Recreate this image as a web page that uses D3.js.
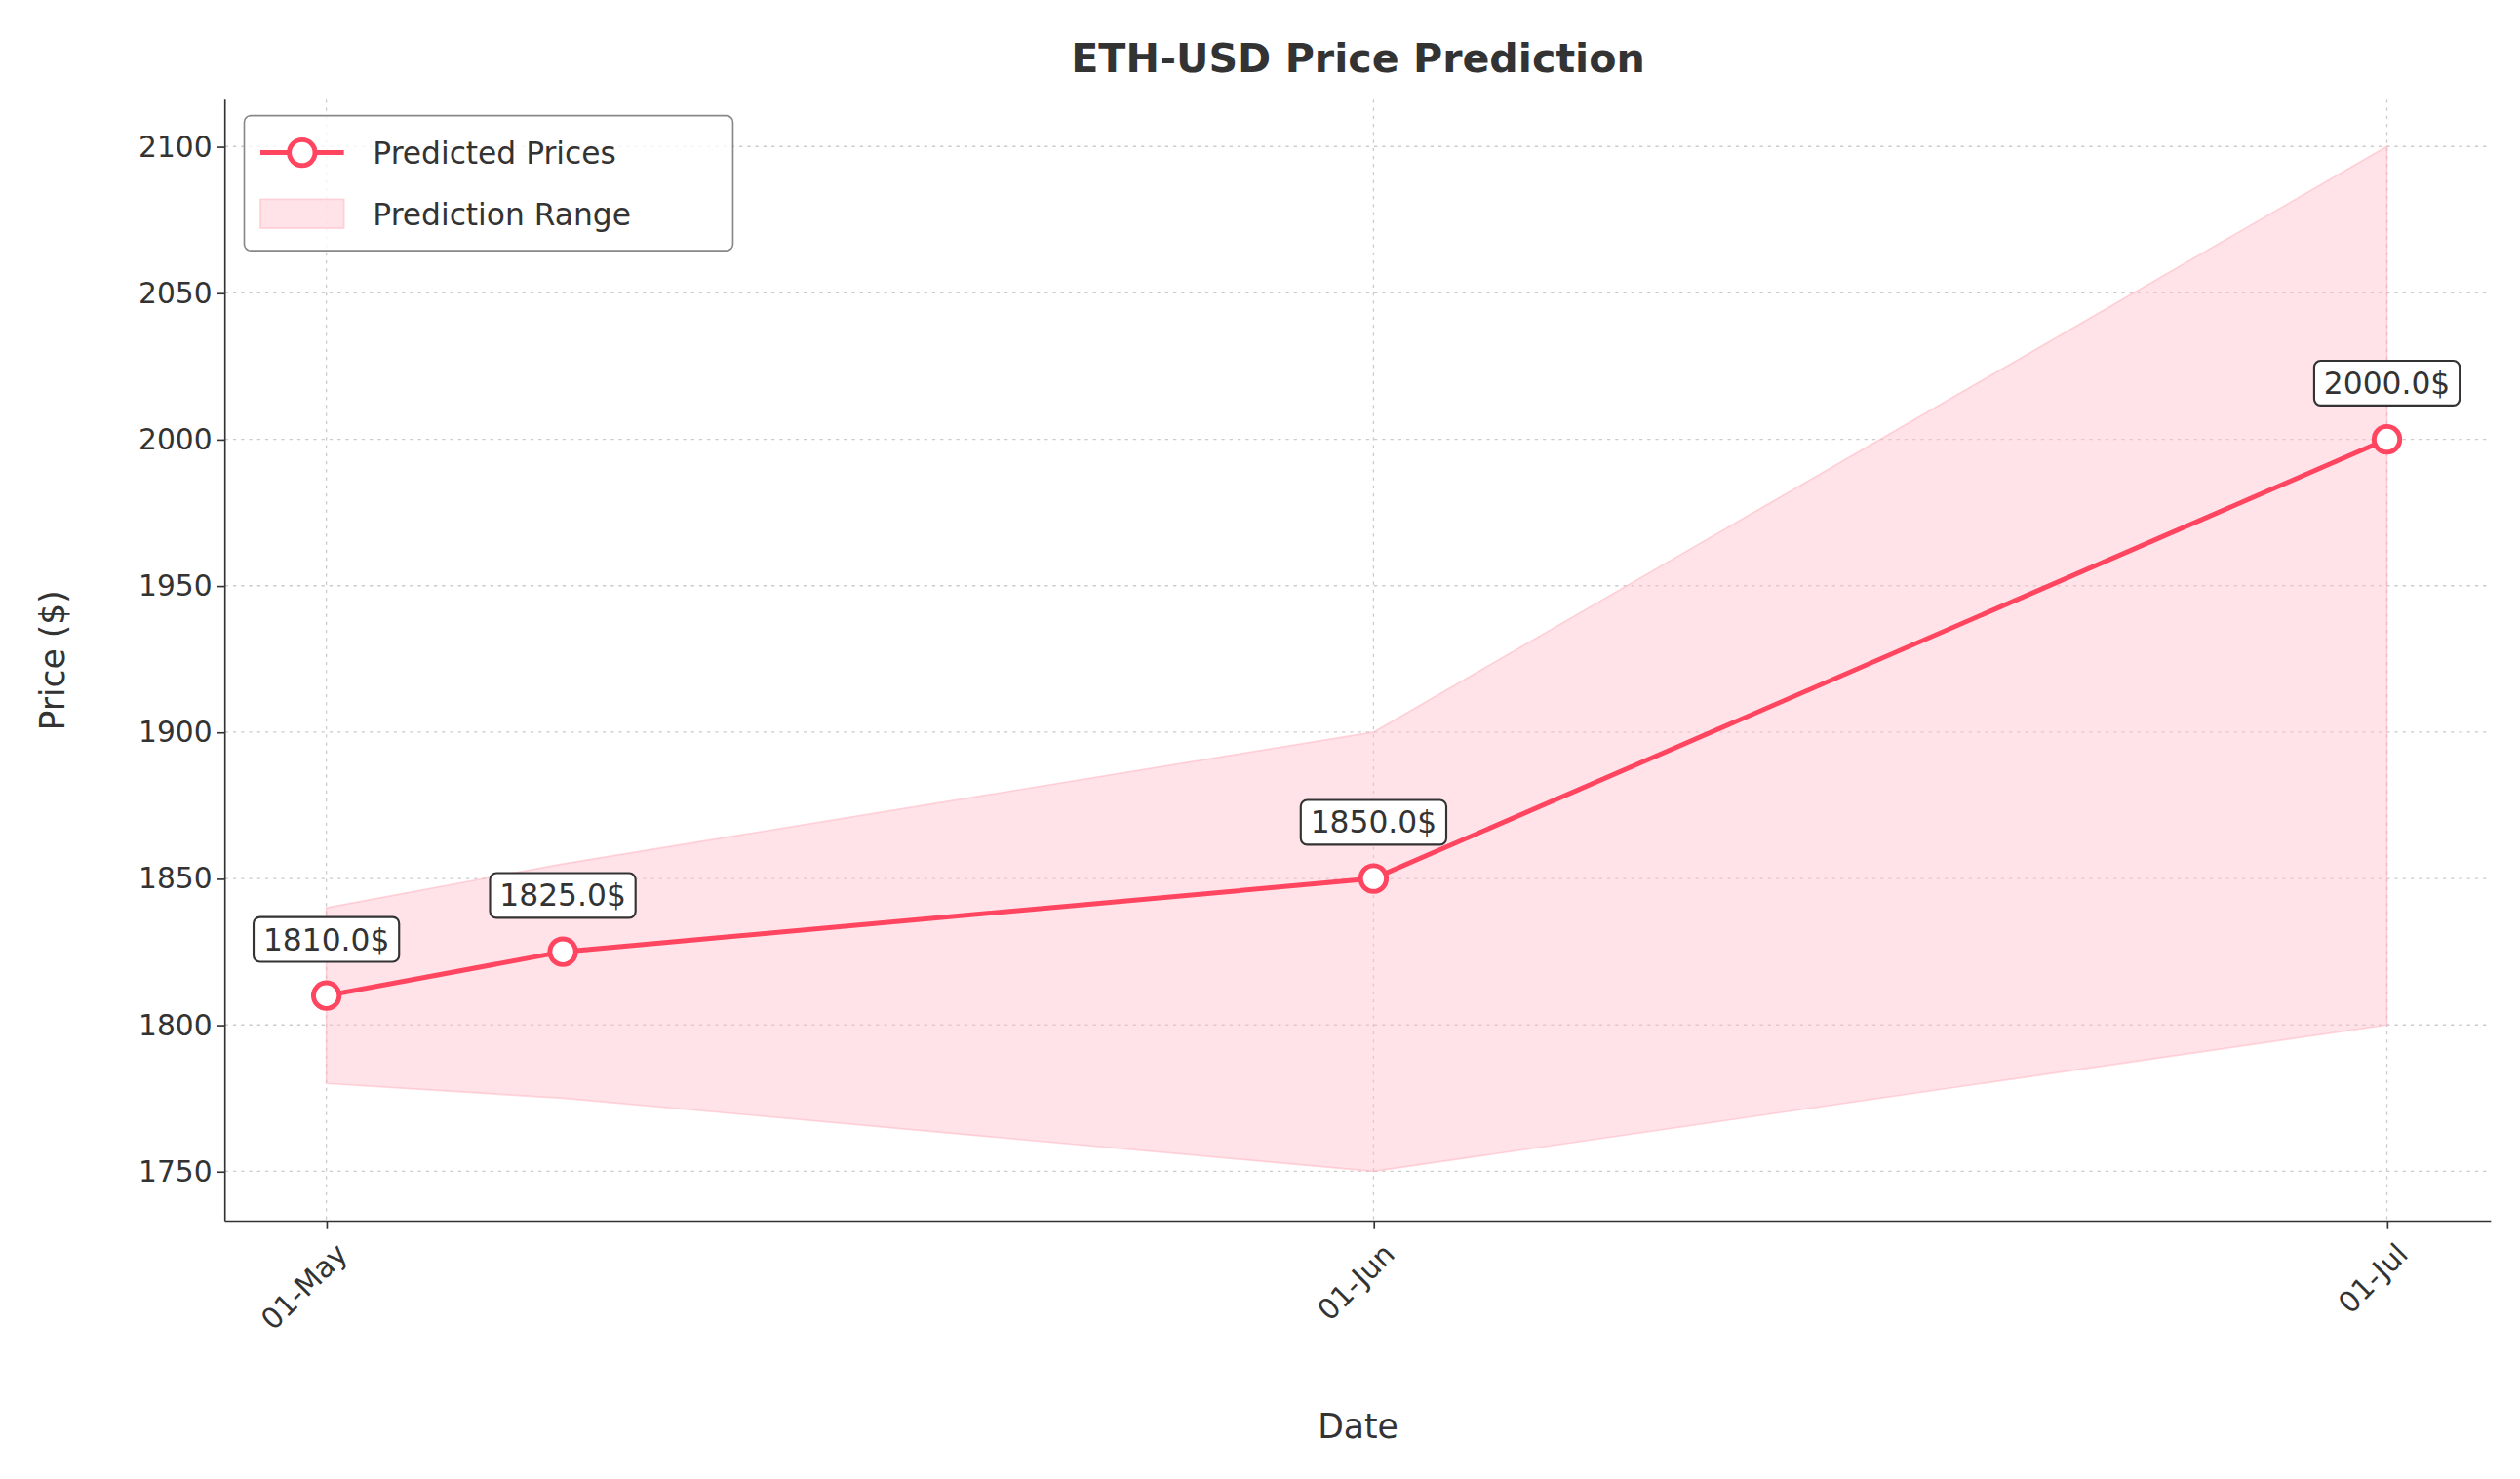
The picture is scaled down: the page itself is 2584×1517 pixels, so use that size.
<!DOCTYPE html>
<html><head><meta charset="utf-8">
<script src="https://cdn.jsdelivr.net/npm/d3@7"></script>
<style>body{margin:0;background:#fff}svg{display:block}</style>
</head><body>
<svg id="c" width="2584" height="1517" viewBox="0 0 1568 920.5"></svg>
<script>
var dates = ["2023-05-01", "2023-05-08", "2023-06-01", "2023-07-01"];
var predicted = [1810, 1825, 1850, 2000];
var upper = [1840, 1855, 1900, 2100];
var lower = [1780, 1775, 1750, 1800];
var yTicks = [1750, 1800, 1850, 1900, 1950, 2000, 2050, 2100];
var xTicks = ["2023-05-01", "2023-06-01", "2023-07-01"];

var parse = d3.timeParse("%Y-%m-%d");
var font = "DejaVu Sans, sans-serif";
var col = "#ff4560";
var svg = d3.select("#c");
var m = {l: 140, r: 1550, t: 62, b: 760};

var x = d3.scaleTime().domain([new Date(2023, 3, 28), new Date(2023, 6, 4, 2)]).range([m.l, m.r]);
var y = d3.scaleLinear().domain([1733, 2116]).range([m.b, m.t]);

var rows = dates.map(function(d, i) {
  return {d: parse(d), v: predicted[i], hi: upper[i], lo: lower[i]};
});

// grid
var g = svg.append("g");
yTicks.forEach(function(t) {
  g.append("line").attr("x1", m.l).attr("x2", m.r).attr("y1", y(t)).attr("y2", y(t))
    .attr("stroke", "#ccc").attr("stroke-dasharray", "2,3").attr("stroke-width", 0.8);
});
xTicks.forEach(function(t) {
  g.append("line").attr("x1", x(parse(t))).attr("x2", x(parse(t))).attr("y1", m.t).attr("y2", m.b)
    .attr("stroke", "#ccc").attr("stroke-dasharray", "2,3").attr("stroke-width", 0.8);
});

// band
svg.append("path").datum(rows)
  .attr("d", d3.area().x(function(d) { return x(d.d); }).y0(function(d) { return y(d.lo); }).y1(function(d) { return y(d.hi); }))
  .attr("fill", "#ffc0cb").attr("fill-opacity", 0.45).attr("stroke", "#ffb0bb").attr("stroke-opacity", 0.5);

// line
svg.append("path").datum(rows)
  .attr("d", d3.line().x(function(d) { return x(d.d); }).y(function(d) { return y(d.v); }))
  .attr("fill", "none").attr("stroke", col).attr("stroke-width", 3);
svg.selectAll("circle.pt").data(rows).enter().append("circle")
  .attr("cx", function(d) { return x(d.d); }).attr("cy", function(d) { return y(d.v); })
  .attr("r", 8).attr("fill", "#fff").attr("stroke", col).attr("stroke-width", 3);

// annotations
rows.forEach(function(d) {
  var cx = x(d.d), cy = y(d.v) - 35;
  var t = svg.append("text").attr("x", cx).attr("y", cy).attr("text-anchor", "middle")
    .attr("dominant-baseline", "central").attr("font-family", font).attr("font-size", 19)
    .attr("fill", "#333").text(d.v.toFixed(1) + "$");
  var bb = t.node().getBBox();
  svg.append("rect").attr("x", bb.x - 6).attr("y", bb.y - 3)
    .attr("width", bb.width + 12).attr("height", bb.height + 6).attr("rx", 4)
    .attr("fill", "#fff").attr("stroke", "#333").attr("stroke-width", 1.3);
  t.raise();
});

// axes
var ya = svg.append("g").attr("transform", "translate(" + m.l + ",0)")
  .call(d3.axisLeft(y).tickValues(yTicks).tickFormat(d3.format("d")).tickSize(5).tickSizeOuter(0));
ya.select(".domain").attr("d", "M0," + m.t + "V" + m.b);
var xa = svg.append("g").attr("transform", "translate(0," + m.b + ")")
  .call(d3.axisBottom(x).tickValues(xTicks.map(parse)).tickFormat(d3.timeFormat("%d-%b")).tickSize(5).tickSizeOuter(0));
xa.select(".domain").attr("d", "M" + m.l + ",0H" + m.r);
[ya, xa].forEach(function(a) {
  a.attr("font-size", null);
  a.selectAll("text").attr("font-family", font).attr("font-size", 18).attr("fill", "#333");
  a.selectAll("line,.domain").attr("stroke", "#333");
});
xa.selectAll("text").attr("text-anchor", "end").attr("dy", 0)
  .attr("transform", "translate(8,16) rotate(-45)");

// labels
svg.append("text").attr("x", 845).attr("y", 45).attr("text-anchor", "middle")
  .attr("font-family", font).attr("font-weight", "bold").attr("font-size", 25).attr("fill", "#333")
  .text("ETH-USD Price Prediction");
svg.append("text").attr("x", 845).attr("y", 895).attr("text-anchor", "middle")
  .attr("font-family", font).attr("font-size", 21).attr("fill", "#333").text("Date");
svg.append("text").attr("transform", "translate(40,411) rotate(-90)").attr("text-anchor", "middle")
  .attr("font-family", font).attr("font-size", 21).attr("fill", "#333").text("Price ($)");

// legend
var lg = svg.append("g");
lg.append("rect").attr("x", 152).attr("y", 72).attr("width", 304).attr("height", 84).attr("rx", 4)
  .attr("fill", "#fff").attr("fill-opacity", 0.8).attr("stroke", "#888");
lg.append("line").attr("x1", 162).attr("x2", 214).attr("y1", 95).attr("y2", 95).attr("stroke", col).attr("stroke-width", 3);
lg.append("circle").attr("cx", 188).attr("cy", 95).attr("r", 8).attr("fill", "#fff").attr("stroke", col).attr("stroke-width", 3);
lg.append("rect").attr("x", 162).attr("y", 124).attr("width", 52).attr("height", 18)
  .attr("fill", "#ffc0cb").attr("fill-opacity", 0.45).attr("stroke", "#ffb0bb").attr("stroke-opacity", 0.5);
lg.append("text").attr("x", 232).attr("y", 102).attr("font-family", font).attr("font-size", 19).attr("fill", "#333").text("Predicted Prices");
lg.append("text").attr("x", 232).attr("y", 140).attr("font-family", font).attr("font-size", 19).attr("fill", "#333").text("Prediction Range");
</script>
</body></html>
